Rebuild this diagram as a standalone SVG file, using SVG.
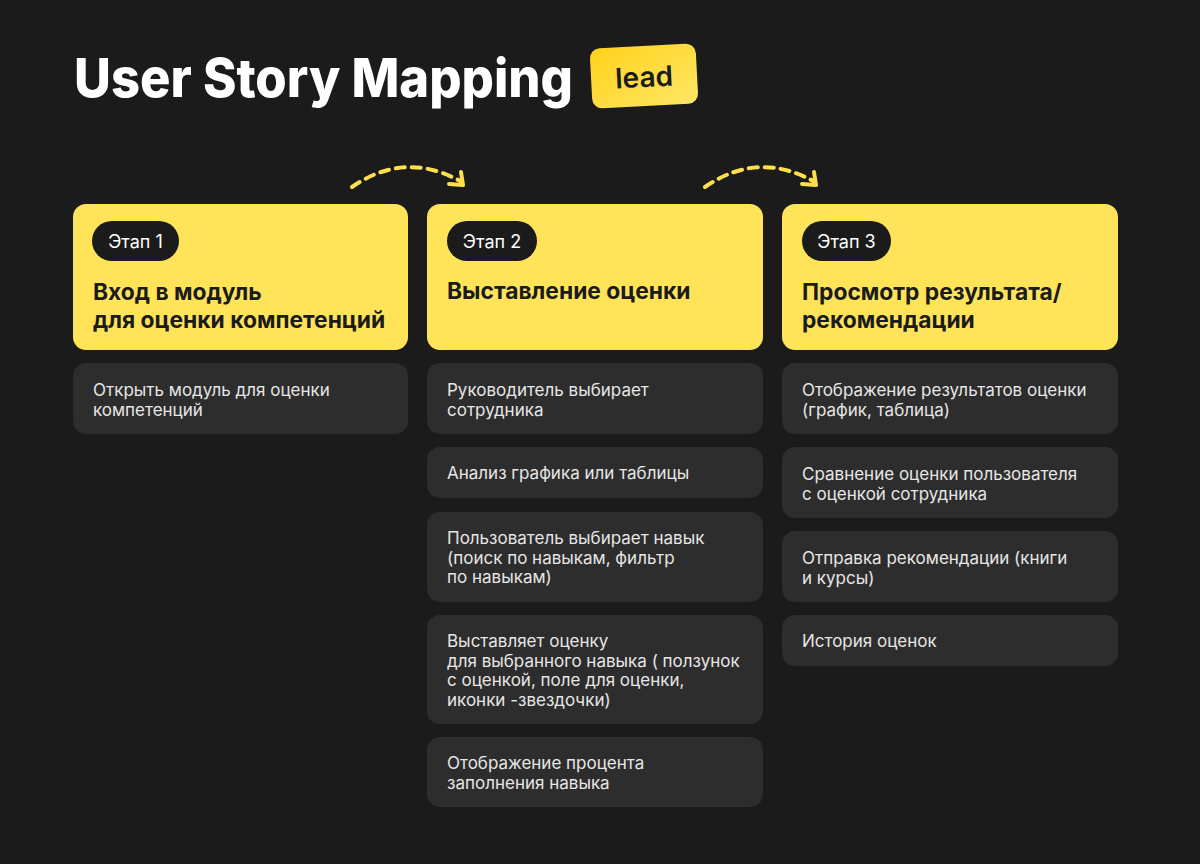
<svg xmlns="http://www.w3.org/2000/svg" width="1200" height="864" viewBox="0 0 1200 864">
<defs>
<linearGradient id="lg" x1="0" y1="0" x2="1" y2="1">
<stop offset="0" stop-color="#ffd21a"/>
<stop offset="1" stop-color="#ffe766"/>
</linearGradient>
</defs>
<style>
.bg{fill:#1b1b1b}
.head{fill:#ffe45a}
.pill{fill:#1b1b1b}
.pilltxt{font-family:Inter,"Noto Sans",sans-serif;font-size:18px;fill:#ffffff}
.htxt{font-family:Inter,"Noto Sans",sans-serif;font-size:22.8px;font-weight:700;fill:#1b1b1b}
.card{fill:#2e2d2d}
.ctxt{font-family:Inter,"Noto Sans",sans-serif;font-size:17px;fill:#e6e6e6}
.arrow{fill:none;stroke:#ffe04a;stroke-width:4;stroke-linecap:round;stroke-linejoin:round}
.dash{stroke-dasharray:9 7}
</style>
<rect class="bg" x="0" y="0" width="1200" height="864"/>
<g id="title">
<text x="74" y="97" font-family="Inter,'Noto Sans',sans-serif" font-size="54" font-weight="800" fill="#ffffff" textLength="499" lengthAdjust="spacingAndGlyphs">User Story Mapping</text>
</g>
<g id="badge" transform="rotate(-3 644 76)">
<rect x="591" y="46" width="106" height="60" rx="10" fill="url(#lg)"/>
<text x="644" y="87" text-anchor="middle" font-family="Inter,'Noto Sans',sans-serif" font-size="28" font-weight="600" fill="#1b1b1b">lead</text>
</g>
<g id="connectors">
<path class="arrow dash" d="M352 187 Q405 150 462 182"/>
<path class="arrow" d="M449 184 L463 185 L461 172"/>
<path class="arrow dash" d="M705 187 Q758 150 815 182"/>
<path class="arrow" d="M802 184 L816 185 L814 172"/>
</g>
<g id="stage1">
<rect class="head" x="73" y="204" width="335" height="146" rx="13"/>
<rect class="pill" x="92" y="221" width="87" height="40" rx="20"/>
<text class="pilltxt" x="135.5" y="247.5" text-anchor="middle">Этап 1</text>
<text class="htxt" x="93" y="300">Вход в модуль</text>
<text class="htxt" x="93" y="328">для оценки компетенций</text>
</g>
<g id="stage2">
<rect class="head" x="427" y="204" width="336" height="146" rx="13"/>
<rect class="pill" x="447" y="221" width="90" height="40" rx="20"/>
<text class="pilltxt" x="492" y="247.5" text-anchor="middle">Этап 2</text>
<text class="htxt" x="447" y="299">Выставление оценки</text>
</g>
<g id="stage3">
<rect class="head" x="782" y="204" width="336" height="146" rx="13"/>
<rect class="pill" x="802" y="221" width="89" height="40" rx="20"/>
<text class="pilltxt" x="846.5" y="247.5" text-anchor="middle">Этап 3</text>
<text class="htxt" x="802" y="300">Просмотр результата/</text>
<text class="htxt" x="802" y="328">рекомендации</text>
</g>
<g id="s1c1">
<rect class="card" x="73" y="363" width="335" height="71" rx="13"/>
<text class="ctxt" x="93" y="396">Открыть модуль для оценки</text>
<text class="ctxt" x="93" y="415.5">компетенций</text>
</g>
<g id="s2c1">
<rect class="card" x="427" y="363" width="336" height="71" rx="13"/>
<text class="ctxt" x="447" y="396">Руководитель выбирает</text>
<text class="ctxt" x="447" y="415.5">сотрудника</text>
</g>
<g id="s2c2">
<rect class="card" x="427" y="447" width="336" height="51" rx="13"/>
<text class="ctxt" x="447" y="479">Анализ графика или таблицы</text>
</g>
<g id="s2c3">
<rect class="card" x="427" y="512" width="336" height="90" rx="13"/>
<text class="ctxt" x="447" y="544">Пользователь выбирает навык</text>
<text class="ctxt" x="447" y="563.5">(поиск по навыкам, фильтр</text>
<text class="ctxt" x="447" y="583">по навыкам)</text>
</g>
<g id="s2c4">
<rect class="card" x="427" y="615" width="336" height="109" rx="13"/>
<text class="ctxt" x="447" y="647">Выставляет оценку</text>
<text class="ctxt" x="447" y="666.5">для выбранного навыка ( ползунок</text>
<text class="ctxt" x="447" y="686">с оценкой, поле для оценки,</text>
<text class="ctxt" x="447" y="705.5">иконки -звездочки)</text>
</g>
<g id="s2c5">
<rect class="card" x="427" y="737" width="336" height="70" rx="13"/>
<text class="ctxt" x="447" y="769">Отображение процента</text>
<text class="ctxt" x="447" y="788.5">заполнения навыка</text>
</g>
<g id="s3c1">
<rect class="card" x="782" y="363" width="336" height="71" rx="13"/>
<text class="ctxt" x="802" y="396">Отображение результатов оценки</text>
<text class="ctxt" x="802" y="415.5">(график, таблица)</text>
</g>
<g id="s3c2">
<rect class="card" x="782" y="447" width="336" height="71" rx="13"/>
<text class="ctxt" x="802" y="480">Сравнение оценки пользователя</text>
<text class="ctxt" x="802" y="499.5">с оценкой сотрудника</text>
</g>
<g id="s3c3">
<rect class="card" x="782" y="531" width="336" height="71" rx="13"/>
<text class="ctxt" x="802" y="564">Отправка рекомендации (книги</text>
<text class="ctxt" x="802" y="583.5">и курсы)</text>
</g>
<g id="s3c4">
<rect class="card" x="782" y="615" width="336" height="51" rx="13"/>
<text class="ctxt" x="802" y="647">История оценок</text>
</g>
</svg>
